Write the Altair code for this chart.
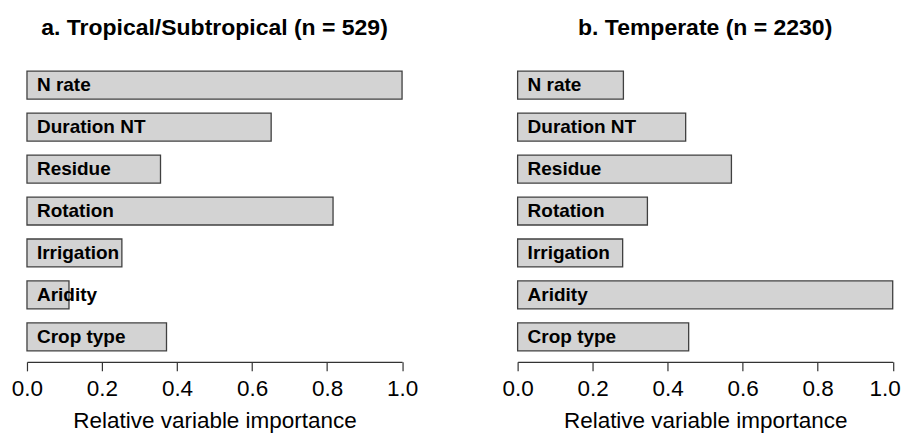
import altair as alt
import pandas as pd

variables = ["N rate", "Duration NT", "Residue", "Rotation", "Irrigation", "Aridity", "Crop type"]
tropical = [1.0, 0.651, 0.356, 0.816, 0.253, 0.112, 0.372]
temperate = [0.282, 0.448, 0.570, 0.346, 0.280, 1.0, 0.456]
ticks = [0.0, 0.2, 0.4, 0.6, 0.8, 1.0]
titles = ["a. Tropical/Subtropical (n = 529)", "b. Temperate (n = 2230)"]

FONT = "Liberation Sans"


def panel(values, title, last_shift):
    df = pd.DataFrame({"var": variables, "imp": values})
    y = alt.Y("var:N", sort=variables, axis=None,
              scale=alt.Scale(paddingInner=1/3, paddingOuter=1/6))
    bars = alt.Chart(df).mark_bar(
        fill="#D3D3D3", stroke="#404040", strokeWidth=1.3, cornerRadius=0
    ).encode(
        x=alt.X("imp:Q",
                scale=alt.Scale(domain=[0, 1], nice=False, zero=True),
                axis=alt.Axis(values=ticks, format=".1f", grid=False,
                              title="Relative variable importance",
                              offset=4, tickSize=9, labelPadding=7,
                              titlePadding=9.5, domainColor="#333333",
                              tickColor="#333333", domainWidth=1.2,
                              tickWidth=1.2, labelColor="black",
                              titleColor="black", labelFont=FONT,
                              titleFont=FONT, labelFontSize=22.5,
                              titleFontSize=22.5, titleFontWeight="normal",
                              labelFlush=False,
                              labelOffset=alt.condition("datum.value == 1",
                                                        alt.value(last_shift),
                                                        alt.value(0)))),
        y=y,
    )
    labels = alt.Chart(df).mark_text(
        align="left", baseline="middle", font=FONT, fontSize=19,
        fontWeight="bold", color="black"
    ).encode(
        x=alt.value(10),
        y=y,
        text="var:N",
    )
    return alt.layer(bars, labels).properties(
        width=375.5, height=294,
        title=alt.TitleParams(title, font=FONT, fontSize=23, fontWeight="bold",
                              color="black", anchor="middle", offset=24,
                              baseline="top"),
    )


chart = alt.hconcat(panel(tropical, titles[0], 0), panel(temperate, titles[1], -8),
                    spacing=115.2, bounds="flush").properties(
    padding={"left": 3, "top": 9, "right": 0, "bottom": 0}
).configure_view(stroke=None)

chart.save("out.html", embed_options={"renderer": "svg", "actions": False})
